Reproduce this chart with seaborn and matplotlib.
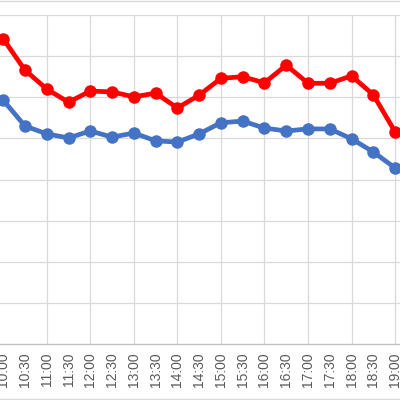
import matplotlib
matplotlib.use("Agg")
import matplotlib.pyplot as plt
import seaborn as sns
import pandas as pd
from matplotlib.lines import Line2D

times = ["10:00", "10:30", "11:00", "11:30", "12:00", "12:30", "13:00", "13:30",
         "14:00", "14:30", "15:00", "15:30", "16:00", "16:30", "17:00", "17:30",
         "18:00", "18:30", "19:00"]
red_values = [74.2, 66.6, 62.0, 58.8, 61.5, 61.3, 60.1, 61.0, 57.4, 60.5,
              64.6, 65.0, 63.5, 67.8, 63.4, 63.4, 65.2, 60.6, 51.6]
blue_values = [59.3, 53.0, 51.1, 50.1, 51.8, 50.3, 51.3, 49.4, 49.1, 51.1,
               53.8, 54.2, 52.5, 51.8, 52.3, 52.3, 49.9, 46.7, 42.8]

sns.set_theme(style="white")
plt.rcParams['font.family'] = ['Liberation Sans', 'DejaVu Sans']

df = pd.DataFrame({"x": list(range(len(times))) * 2,
                   "value": red_values + blue_values,
                   "series": ["red"] * len(times) + ["blue"] * len(times)})

fig = plt.figure(figsize=(4, 4), dpi=100)
ax = fig.add_axes([0.0, 0.14, 1.0, 0.8225])

for name, color in [("blue", "#4472C4"), ("red", "#FF0000")]:
    sub = df[df["series"] == name]
    sns.lineplot(data=sub, x="x", y="value", ax=ax, color=color, linewidth=3.4,
                 marker="o", markersize=9, markeredgewidth=0, legend=False)

x0 = 3.25 / 22.125
ax.set_xlim(-x0, 18 + (400 - 395) / 22.125)
ax.set_ylim(0, 80)
ax.set_yticks(range(0, 81, 10))
ax.set_yticklabels([])
ax.tick_params(axis='y', length=0)
ax.grid(axis='y', color='#D9D9D9', linewidth=0.9)

ax.xaxis.remove_overlapping_locs = False
ax.set_xticks(range(len(times)))
ax.set_xticklabels(times, rotation=90, fontsize=10, color='#595959')
ax.tick_params(axis='x', direction='in', length=4, width=0.8, color='#BFBFBF', pad=6)
ax.set_xticks(range(2, len(times), 2), minor=True)
ax.tick_params(axis='x', which='minor', length=0)
ax.grid(axis='x', which='minor', color='#D9D9D9', linewidth=0.9)
ax.grid(axis='x', which='major', visible=False)
ax.set_axisbelow(True)
ax.set_xlabel("")
ax.set_ylabel("")

for s in ["top", "left", "right"]:
    ax.spines[s].set_visible(False)
ax.spines["bottom"].set_color("#BFBFBF")
ax.spines["bottom"].set_linewidth(0.9)

# chart border lines (top and bottom)
fig.add_artist(Line2D([0, 1], [0.9985, 0.9985], transform=fig.transFigure,
                      color='#D9D9D9', linewidth=1))
fig.add_artist(Line2D([0, 1], [0.003, 0.003], transform=fig.transFigure,
                      color='#D9D9D9', linewidth=1))

fig.savefig("out.png", dpi=100)
